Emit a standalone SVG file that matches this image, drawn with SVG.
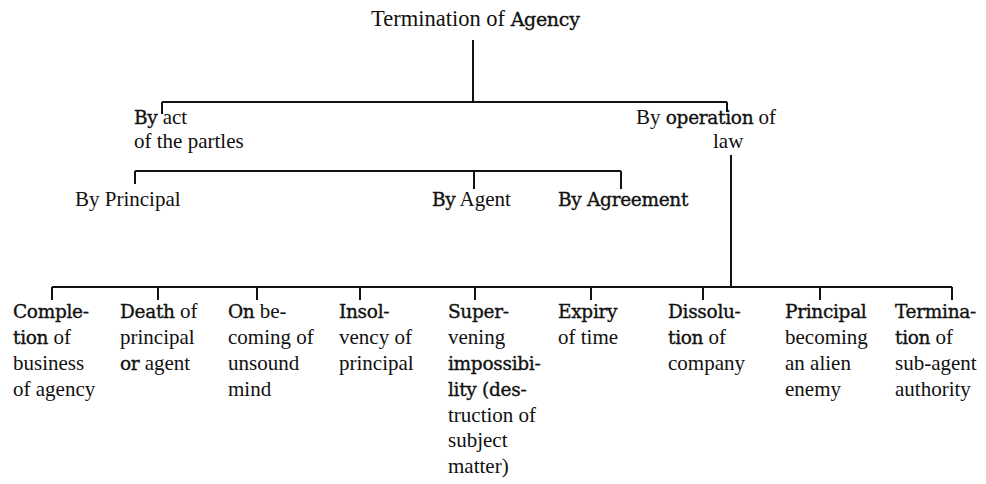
<svg xmlns="http://www.w3.org/2000/svg" width="986" height="484" viewBox="0 0 986 484">
<style>
text{font-family:"Liberation Serif","Times New Roman",serif;font-size:21px;fill:#111}
.t{font-size:22.5px}
.b{font-family:"DejaVu Serif",serif;font-size:18.5px;letter-spacing:-0.3px;stroke:#111;stroke-width:0.35px}
.ln{stroke:#111;stroke-width:2;fill:none}
</style>
<rect width="986" height="484" fill="#fff"/>
<g id="connectors" class="ln">
<path d="M473 40V102M162 102H727M162 102V114M727 102V112"/>
<path d="M135 171H621M135 171V184M474 171V189M621 171V189"/>
<path d="M731 155V287M52 287H952"/>
<path d="M52 287V300M158 287V300M257 287V300M360 287V300M475 287V300M591 287V300M703 287V300M820 287V300M952 287V300"/>
</g>
<g id="root"><text x="371" y="26" class="t">Termination of <tspan class="b" style="font-size:19px">Agency</tspan></text></g>
<g id="act"><text x="134" y="124"><tspan class="b">By</tspan> act</text><text x="134" y="148">of the partles</text></g>
<g id="law"><text x="636" y="124">By <tspan class="b">operation</tspan> of</text><text x="713" y="148">law</text></g>
<g id="principal"><text x="75" y="206">By Principal</text></g>
<g id="agent"><text x="432" y="206"><tspan class="b">By</tspan> Agent</text></g>
<g id="agreement"><text x="558" y="206" class="b">By Agreement</text></g>
<g id="c1"><text x="13" y="318" class="b">Comple-</text><text x="13" y="344"><tspan class="b">tion</tspan> of</text><text x="13" y="370">business</text><text x="13" y="396">of agency</text></g>
<g id="c2"><text x="120" y="318"><tspan class="b">Death</tspan> of</text><text x="120" y="344">principal</text><text x="120" y="370"><tspan class="b">or</tspan> agent</text></g>
<g id="c3"><text x="228" y="318"><tspan class="b">On</tspan> be-</text><text x="228" y="344">coming of</text><text x="228" y="370">unsound</text><text x="228" y="396">mind</text></g>
<g id="c4"><text x="339" y="318" class="b">Insol-</text><text x="339" y="344">vency of</text><text x="339" y="370">principal</text></g>
<g id="c5"><text x="448" y="318" class="b">Super-</text><text x="448" y="344">vening</text><text x="448" y="370" class="b">impossibi-</text><text x="448" y="396" class="b">lity (des-</text><text x="448" y="422">truction of</text><text x="448" y="447">subject</text><text x="448" y="473">matter)</text></g>
<g id="c6"><text x="558" y="318" class="b">Expiry</text><text x="558" y="344">of time</text></g>
<g id="c7"><text x="668" y="318" class="b">Dissolu-</text><text x="668" y="344"><tspan class="b">tion</tspan> of</text><text x="668" y="370">company</text></g>
<g id="c8"><text x="785" y="318" class="b">Principal</text><text x="785" y="344">becoming</text><text x="785" y="370">an alien</text><text x="785" y="396">enemy</text></g>
<g id="c9"><text x="895" y="318" class="b">Termina-</text><text x="895" y="344"><tspan class="b">tion</tspan> of</text><text x="895" y="370">sub-agent</text><text x="895" y="396">authority</text></g>
</svg>
